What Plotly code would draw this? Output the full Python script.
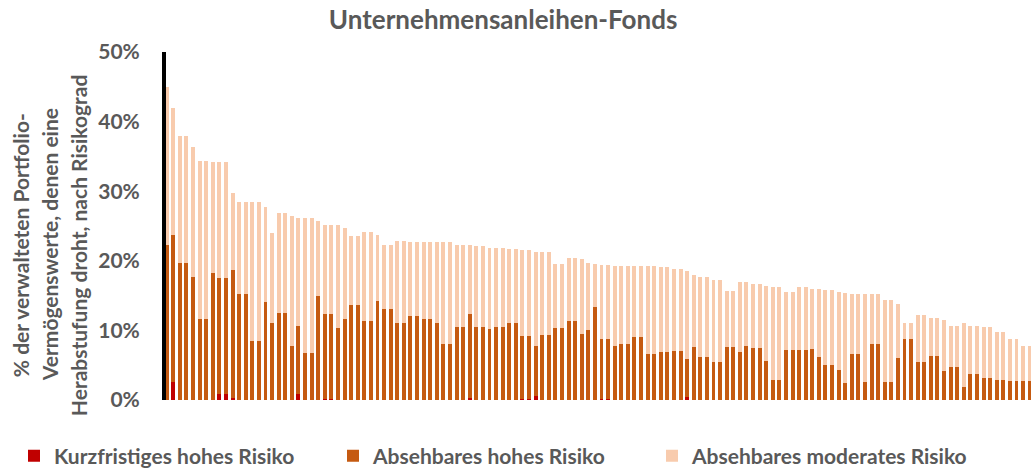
import plotly.graph_objects as go

# Fonds, sortiert nach Gesamtanteil (keine Beschriftung auf der x-Achse)
fonds = [f"Fonds {i}" for i in range(1, 133)]

# Anteil in % je Risikograd
kurzfristig_hoch = [
    0, 2.6, 0, 0, 0, 0, 0, 0, 0.8, 0.8,
    0.3, 0, 0, 0, 0, 0, 0, 0, 0, 0,
    0.8, 0, 0, 0, 0.2, 0.2, 0, 0, 0, 0,
    0, 0, 0, 0, 0, 0, 0, 0, 0, 0,
    0, 0, 0, 0, 0, 0, 0.3, 0, 0, 0,
    0, 0, 0, 0, 0.2, 0.2, 0.6, 0, 0, 0,
    0, 0, 0, 0, 0, 0, 0.2, 0.2, 0, 0,
    0, 0, 0, 0, 0, 0, 0, 0, 0, 0.4,
    0, 0, 0, 0, 0, 0, 0, 0, 0, 0,
    0, 0, 0, 0, 0, 0, 0, 0, 0, 0,
    0, 0, 0, 0, 0, 0, 0, 0, 0, 0,
    0, 0, 0, 0, 0, 0, 0, 0, 0, 0,
    0, 0, 0, 0, 0, 0, 0, 0, 0, 0,
    0, 0,
]
absehbar_hoch = [
    22.3, 21.1, 19.7, 19.7, 17.7, 11.6, 11.6, 18.2, 16.7, 16.7,
    18.4, 15.3, 15.3, 8.5, 8.5, 14.1, 11.0, 12.5, 12.5, 7.7,
    9.8, 6.8, 6.8, 15.0, 12.1, 12.1, 10.4, 11.6, 13.6, 13.6,
    11.4, 11.4, 14.2, 13.1, 13.1, 11.1, 11.1, 12.0, 12.0, 11.7,
    11.7, 11.1, 8.1, 8.1, 10.5, 10.5, 12.1, 10.5, 10.5, 10.2,
    10.5, 10.5, 11.0, 11.0, 9.0, 9.0, 7.1, 9.4, 9.4, 10.4,
    10.4, 11.4, 11.4, 9.5, 10.1, 13.3, 8.6, 8.6, 7.8, 8.0,
    8.0, 9.0, 9.0, 6.6, 6.6, 6.9, 6.9, 7.0, 7.0, 5.5,
    7.6, 6.2, 6.2, 5.4, 5.4, 7.6, 7.6, 6.9, 7.8, 7.5,
    7.5, 5.6, 2.9, 2.9, 7.2, 7.2, 7.2, 7.2, 7.4, 6.2,
    5.0, 5.0, 4.3, 2.5, 6.6, 6.6, 2.6, 8.0, 8.0, 2.6,
    2.6, 6.0, 8.7, 8.7, 5.5, 5.5, 6.3, 6.3, 4.2, 4.8,
    4.8, 1.8, 3.8, 3.8, 3.1, 3.1, 2.9, 2.9, 2.7, 2.7,
    2.7, 2.7,
]
absehbar_moderat = [
    22.7, 18.3, 18.3, 18.3, 18.6, 22.7, 22.7, 16.0, 16.7, 16.7,
    11.1, 13.2, 13.2, 20.0, 20.0, 13.6, 13.0, 14.3, 14.3, 18.8,
    15.5, 19.3, 19.3, 10.7, 12.8, 12.8, 14.7, 13.1, 9.9, 9.9,
    12.7, 12.7, 9.5, 9.1, 9.1, 11.7, 11.7, 10.7, 10.7, 11.0,
    11.0, 11.6, 14.6, 14.6, 11.8, 11.8, 9.9, 11.6, 11.6, 11.7,
    11.3, 11.3, 10.7, 10.7, 12.3, 12.3, 13.6, 11.8, 11.8, 9.2,
    9.2, 9.0, 9.0, 10.8, 9.6, 6.3, 10.6, 10.6, 11.5, 11.3,
    11.3, 10.3, 10.3, 12.6, 12.6, 12.2, 12.2, 11.8, 11.8, 12.6,
    10.4, 11.5, 11.5, 11.9, 11.9, 8.1, 8.1, 10.1, 9.2, 9.1,
    9.1, 10.8, 13.3, 13.3, 8.3, 8.3, 9.0, 9.0, 8.5, 9.7,
    10.8, 10.8, 11.2, 12.9, 8.7, 8.7, 12.7, 7.3, 7.3, 11.7,
    11.7, 7.8, 2.4, 2.4, 6.7, 6.7, 5.5, 5.5, 7.3, 5.9,
    5.9, 9.3, 6.9, 6.9, 7.4, 7.4, 6.9, 6.9, 6.0, 6.0,
    5.1, 5.1,
]

y_ticks = [0, 10, 20, 30, 40, 50]
y_ticklabels = ["0%", "10%", "20%", "30%", "40%", "50%"]

GREY = "#595959"
FONT = "Lato"
LEFT = 166      # plot area left edge (px)
PLOT_W = 865    # plot area width (px)

fig = go.Figure()
fig.add_trace(go.Bar(x=fonds, y=kurzfristig_hoch, name="Kurzfristiges hohes Risiko",
                     marker_color="#C00000"))
fig.add_trace(go.Bar(x=fonds, y=absehbar_hoch, name="Absehbares hohes Risiko",
                     marker_color="#C55A11"))
fig.add_trace(go.Bar(x=fonds, y=absehbar_moderat, name="Absehbares moderates Risiko",
                     marker_color="#F8CBAD"))
fig.update_traces(marker_line_width=0)

fig.update_layout(
    width=1031, height=469,
    barmode="stack", bargap=0.4,
    plot_bgcolor="white", paper_bgcolor="white",
    margin=dict(l=LEFT, r=1031 - LEFT - PLOT_W, t=52, b=69, autoexpand=False),
    font=dict(family=FONT, color=GREY, size=21, weight="bold"),
    title=dict(text="Unternehmensanleihen-Fonds", x=0.488, xanchor="center",
               y=0.957, yanchor="middle",
               font=dict(family=FONT, size=26, color=GREY, weight="bold")),
    showlegend=True,
    legend=dict(orientation="h", x=(14 - LEFT) / PLOT_W, xanchor="left",
                y=-0.161, yanchor="middle",
                traceorder="normal", entrywidth=274, entrywidthmode="pixels",
                font=dict(family=FONT, size=21, color=GREY, weight="bold")),
)
fig.update_xaxes(showticklabels=False, ticks="", showgrid=False, showline=False,
                 zeroline=False, range=[-0.105, 131.2])
fig.update_yaxes(range=[0, 50], tickvals=y_ticks, ticktext=y_ticklabels, showgrid=False,
                 zeroline=False, showline=True, linecolor="black", linewidth=4,
                 ticks="", ticklabelstandoff=18,
                 tickfont=dict(family=FONT, size=21, color=GREY, weight="bold"))

y_title = ["% der verwalteten Portfolio-", "Vermögenswerte, denen eine",
           "Herabstufung droht, nach Risikograd"]
for i, line in enumerate(y_title):
    fig.add_annotation(text=line, textangle=-90, xref="paper", yref="paper",
                       x=(20 + 29 * i - LEFT) / PLOT_W, y=0.445, showarrow=False,
                       xanchor="center", yanchor="middle",
                       font=dict(family=FONT, size=21, color=GREY, weight="bold"))

# remove the default page margin so the figure sits at the window's corner
fig.write_html("out.html", config={"displayModeBar": False},
               post_script="document.body.style.margin = '0';")
